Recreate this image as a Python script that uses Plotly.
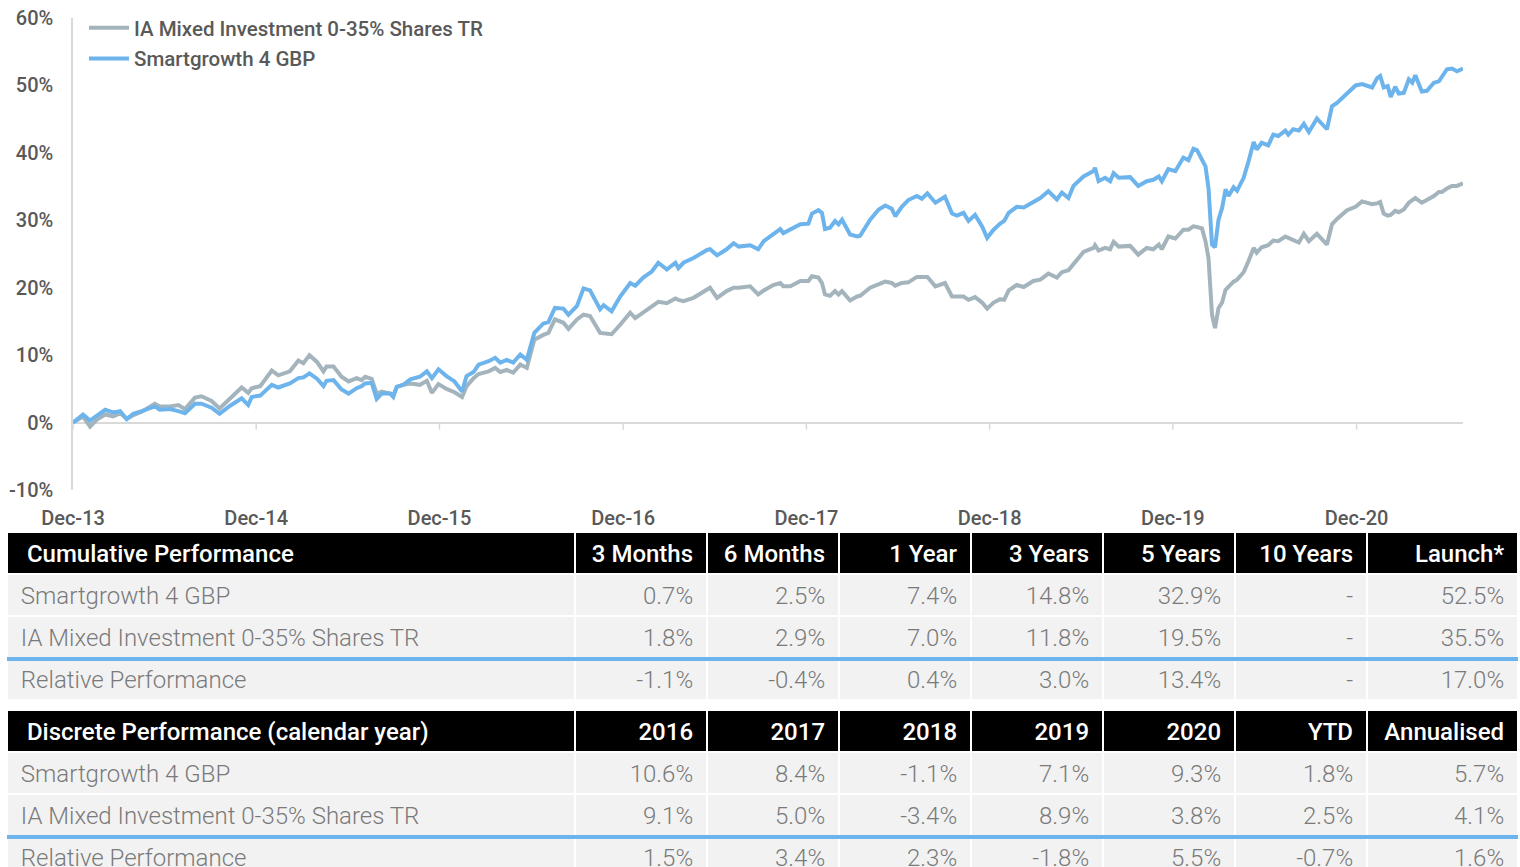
import plotly.graph_objects as go

# ---------------- chart data ----------------
dates = [
    "2013-12-31", "2014-01-20", "2014-02-03", "2014-02-16", "2014-03-05", "2014-03-21", "2014-04-04", "2014-04-17",
    "2014-04-30", "2014-05-17", "2014-06-12", "2014-06-22", "2014-07-12", "2014-07-29", "2014-08-11", "2014-08-31",
    "2014-09-13", "2014-10-03", "2014-10-19", "2014-11-09", "2014-12-02", "2014-12-15", "2014-12-22", "2015-01-08",
    "2015-01-31", "2015-02-13", "2015-03-08", "2015-03-25", "2015-04-04", "2015-04-16", "2015-05-01", "2015-05-14",
    "2015-05-20", "2015-06-03", "2015-06-19", "2015-07-03", "2015-07-19", "2015-07-29", "2015-08-05", "2015-08-18",
    "2015-08-28", "2015-09-07", "2015-09-24", "2015-09-30", "2015-10-07", "2015-10-20", "2015-11-03", "2015-11-22",
    "2015-12-06", "2015-12-16", "2015-12-29", "2016-01-14", "2016-01-30", "2016-02-14", "2016-02-23", "2016-03-08",
    "2016-03-18", "2016-04-07", "2016-04-20", "2016-04-30", "2016-05-13", "2016-05-26", "2016-06-09", "2016-06-22",
    "2016-07-07", "2016-07-25", "2016-08-04", "2016-08-17", "2016-09-03", "2016-09-13", "2016-09-30", "2016-10-13",
    "2016-10-26", "2016-11-15", "2016-11-22", "2016-12-08", "2016-12-25", "2017-01-14", "2017-01-24", "2017-02-09",
    "2017-02-26", "2017-03-11", "2017-03-28", "2017-04-14", "2017-04-20", "2017-04-30", "2017-05-20", "2017-06-16",
    "2017-06-22", "2017-07-06", "2017-07-25", "2017-08-08", "2017-08-18", "2017-09-10", "2017-09-26", "2017-10-07",
    "2017-10-26", "2017-11-09", "2017-11-15", "2017-11-29", "2017-12-19", "2018-01-04", "2018-01-11", "2018-01-24",
    "2018-01-31", "2018-02-06", "2018-02-16", "2018-02-26", "2018-03-05", "2018-03-12", "2018-03-28", "2018-04-11",
    "2018-04-17", "2018-05-07", "2018-05-24", "2018-06-06", "2018-06-19", "2018-06-26", "2018-07-09", "2018-07-22",
    "2018-08-08", "2018-08-18", "2018-08-29", "2018-09-14", "2018-10-03", "2018-10-17", "2018-10-27", "2018-11-09",
    "2018-11-19", "2018-12-02", "2018-12-16", "2018-12-26", "2019-01-08", "2019-01-21", "2019-01-29", "2019-02-07",
    "2019-02-23", "2019-03-09", "2019-03-28", "2019-04-11", "2019-04-27", "2019-05-14", "2019-05-24", "2019-06-06",
    "2019-06-16", "2019-07-06", "2019-07-26", "2019-07-29", "2019-08-05", "2019-08-18", "2019-08-28", "2019-09-04",
    "2019-09-14", "2019-10-07", "2019-10-23", "2019-11-09", "2019-11-22", "2019-12-03", "2019-12-09", "2019-12-22",
    "2020-01-05", "2020-01-21", "2020-01-31", "2020-02-10", "2020-02-17", "2020-02-27", "2020-03-05", "2020-03-11",
    "2020-03-18", "2020-03-24", "2020-03-31", "2020-04-07", "2020-04-14", "2020-04-20", "2020-04-30", "2020-05-07",
    "2020-05-20", "2020-05-30", "2020-06-09", "2020-06-15", "2020-06-25", "2020-07-08", "2020-07-18", "2020-07-28",
    "2020-08-11", "2020-08-17", "2020-08-27", "2020-09-07", "2020-09-17", "2020-09-27", "2020-10-13", "2020-11-02",
    "2020-11-12", "2020-11-22", "2020-12-12", "2020-12-29", "2021-01-11", "2021-01-31", "2021-02-10", "2021-02-16",
    "2021-02-23", "2021-03-03", "2021-03-09", "2021-03-18", "2021-03-25", "2021-04-04", "2021-04-14", "2021-04-21",
    "2021-04-27", "2021-05-10", "2021-05-20", "2021-06-03", "2021-06-13", "2021-06-19", "2021-06-29", "2021-07-09",
    "2021-07-19", "2021-07-31",
]

smartgrowth = [
    0.0, 1.2, 0.3, 1.0, 1.9, 1.5, 1.7, 0.5, 1.3, 1.7, 2.4, 1.9, 2.0, 1.7, 1.4, 2.8,
    2.8, 2.2, 1.3, 2.5, 3.6, 2.6, 3.8, 4.0, 5.6, 5.2, 5.8, 6.6, 6.7, 7.3, 6.5, 5.4,
    6.2, 6.3, 4.9, 4.3, 5.1, 5.4, 5.8, 5.9, 3.5, 4.3, 4.3, 3.8, 5.3, 5.6, 6.4, 6.8,
    7.6, 6.6, 7.9, 6.9, 6.1, 4.6, 6.9, 7.5, 8.6, 9.1, 9.6, 8.9, 9.3, 8.9, 10.1, 9.3,
    13.3, 14.7, 14.9, 17.0, 16.9, 16.0, 17.3, 19.9, 19.6, 16.8, 17.4, 16.5, 18.7, 20.7, 20.3, 21.5,
    22.4, 23.7, 22.7, 23.7, 22.9, 23.7, 24.4, 25.6, 25.7, 24.8, 25.7, 26.6, 26.1, 26.3, 25.7, 26.9,
    28.0, 28.7, 28.1, 28.6, 29.4, 29.5, 31.0, 31.5, 31.1, 28.7, 28.9, 29.9, 29.4, 30.1, 27.9, 27.6,
    27.7, 30.1, 31.6, 32.2, 31.7, 30.6, 32.0, 33.0, 33.6, 33.2, 34.0, 32.6, 33.5, 31.0, 30.7, 31.1,
    29.9, 30.8, 29.1, 27.4, 28.6, 29.5, 29.9, 31.1, 32.0, 31.9, 32.8, 33.3, 34.3, 33.1, 34.1, 33.3,
    35.1, 36.5, 37.3, 37.8, 35.8, 36.3, 35.8, 37.0, 36.3, 36.4, 35.1, 35.8, 36.0, 36.5, 35.8, 37.6,
    37.3, 39.3, 38.9, 40.6, 40.4, 38.8, 38.0, 34.8, 26.4, 26.0, 30.1, 31.8, 34.6, 33.6, 34.9, 34.4,
    36.3, 38.8, 41.6, 40.5, 41.5, 41.1, 42.7, 42.5, 43.3, 42.7, 43.5, 43.3, 44.3, 43.1, 45.1, 43.5,
    46.9, 47.4, 48.7, 50.0, 50.2, 49.7, 51.1, 51.4, 49.7, 49.9, 48.3, 49.8, 48.8, 48.9, 50.9, 50.4,
    51.5, 49.1, 49.2, 50.4, 50.6, 51.2, 52.4, 52.5, 52.1, 52.5,
]

ia_mixed = [
    0.0, 0.9, -0.6, 0.4, 1.2, 0.9, 1.4, 0.6, 1.1, 1.6, 2.8, 2.4, 2.4, 2.6, 2.0, 3.7,
    3.9, 3.2, 2.1, 3.6, 5.2, 4.4, 5.1, 5.4, 7.7, 7.0, 7.6, 9.2, 8.8, 10.0, 9.0, 7.6,
    8.3, 8.3, 6.8, 6.1, 6.6, 6.3, 6.8, 6.5, 4.3, 4.6, 4.3, 4.0, 5.3, 5.6, 5.8, 5.6,
    6.2, 4.4, 5.7, 5.0, 4.5, 3.8, 5.4, 6.6, 7.2, 7.6, 8.1, 7.5, 7.8, 7.4, 8.6, 8.1,
    12.3, 13.0, 13.3, 15.3, 14.8, 13.9, 15.3, 16.0, 15.8, 13.3, 13.2, 13.1, 14.5, 16.3, 15.5, 16.3,
    17.2, 17.9, 17.7, 18.4, 18.2, 18.0, 18.5, 19.6, 20.0, 18.5, 19.5, 20.0, 20.0, 20.2, 19.0, 19.6,
    20.4, 20.7, 20.2, 20.2, 21.0, 21.0, 21.7, 21.5, 20.7, 19.0, 18.8, 19.5, 19.0, 19.5, 18.1, 18.7,
    18.8, 20.0, 20.6, 20.9, 20.7, 20.3, 20.7, 20.8, 21.6, 21.6, 21.6, 20.2, 20.7, 18.7, 18.7, 18.7,
    18.2, 18.6, 17.8, 16.9, 17.8, 18.3, 18.2, 19.6, 20.4, 20.1, 21.0, 21.2, 22.1, 21.5, 22.3, 22.6,
    23.5, 25.3, 25.9, 26.3, 25.5, 25.9, 25.7, 26.8, 26.1, 26.2, 24.9, 25.9, 25.7, 26.4, 25.7, 27.6,
    27.3, 28.6, 28.6, 29.1, 29.0, 28.8, 26.9, 24.4, 16.0, 14.0, 17.0, 17.8, 19.7, 20.2, 20.9, 21.2,
    22.3, 24.0, 25.9, 25.2, 26.0, 26.3, 27.0, 26.9, 27.6, 27.4, 27.0, 26.7, 28.0, 26.9, 28.0, 26.4,
    29.4, 30.2, 31.5, 32.0, 32.8, 32.4, 32.5, 32.7, 31.0, 30.7, 30.8, 31.4, 31.2, 31.6, 32.6, 33.0,
    33.3, 32.6, 33.0, 33.6, 34.2, 34.2, 34.7, 35.1, 35.1, 35.5,
]

series_names = ["IA Mixed Investment 0-35% Shares TR", "Smartgrowth 4 GBP"]

tick_dates = ["2013-12-31", "2014-12-31", "2015-12-31", "2016-12-31",
              "2017-12-31", "2018-12-31", "2019-12-31", "2020-12-31"]
tick_text = ["Dec-13", "Dec-14", "Dec-15", "Dec-16", "Dec-17", "Dec-18", "Dec-19", "Dec-20"]
x_range = ["2013-12-31", "2021-07-31"]

y_tick_vals = [-10, 0, 10, 20, 30, 40, 50, 60]
y_tick_text = ["-10%", "0%", "10%", "20%", "30%", "40%", "50%", "60%"]
y_range = [-10, 60]

# ---------------- table data ----------------
row_labels = ["Smartgrowth 4 GBP", "IA Mixed Investment 0-35% Shares TR", "Relative Performance"]

cum_title = "Cumulative Performance"
cum_periods = ["3 Months", "6 Months", "1 Year", "3 Years", "5 Years", "10 Years", "Launch*"]
cum_smart = ["0.7%", "2.5%", "7.4%", "14.8%", "32.9%", "-", "52.5%"]
cum_ia = ["1.8%", "2.9%", "7.0%", "11.8%", "19.5%", "-", "35.5%"]
cum_rel = ["-1.1%", "-0.4%", "0.4%", "3.0%", "13.4%", "-", "17.0%"]

disc_title = "Discrete Performance (calendar year)"
disc_periods = ["2016", "2017", "2018", "2019", "2020", "YTD", "Annualised"]
disc_smart = ["10.6%", "8.4%", "-1.1%", "7.1%", "9.3%", "1.8%", "5.7%"]
disc_ia = ["9.1%", "5.0%", "-3.4%", "8.9%", "3.8%", "2.5%", "4.1%"]
disc_rel = ["1.5%", "3.4%", "2.3%", "-1.8%", "5.5%", "-0.7%", "1.6%"]

# ---------------- styling ----------------
W, H = 1520, 867
BLUE = "#6db4ec"
GREY = "#a4b4bd"
AXIS_GREY = "#d9d9d9"
TXT = "#595959"
FONT = "Roboto"
NB = "\u00a0"
TEXT_SHIFT = 4  # px: table text sits a little lower in its cell than plotly's default


def fx(p):
    return p / W


def fy(p):
    return 1 - p / H


fig = go.Figure()

fig.add_trace(go.Scatter(
    x=dates, y=ia_mixed, mode="lines", name=series_names[0],
    line=dict(color=GREY, width=4), legendgroup="a",
))
fig.add_trace(go.Scatter(
    x=dates, y=smartgrowth, mode="lines", name=series_names[1],
    line=dict(color=BLUE, width=4), legendgroup="b",
))

col_widths = [568, 132, 132, 132, 132, 132, 132, 151]
n_cols = len(col_widths)
aligns = ["left"] + ["right"] * (n_cols - 1)


def table_grid(y0px, y1px):
    """Cell backgrounds and borders."""
    return go.Table(
        domain=dict(x=[fx(7), fx(1518)], y=[fy(y1px), fy(y0px)]),
        columnwidth=col_widths,
        header=dict(values=[""] * n_cols, fill_color="#000000",
                    line=dict(color="#ffffff", width=2), height=42),
        cells=dict(values=[[""] * 3 for _ in range(n_cols)], fill_color="#f2f2f2",
                   line=dict(color="#ffffff", width=2), height=42),
    )


def table_text(title, periods, smart, ia, rel, y0px, y1px):
    header_vals = [NB + NB + title] + [p + NB for p in periods]
    cols = [[NB + r for r in row_labels]]
    for i in range(len(periods)):
        cols.append([smart[i] + NB, ia[i] + NB, rel[i] + NB])
    clear = "rgba(0,0,0,0)"
    return go.Table(
        domain=dict(x=[fx(7), fx(1518)], y=[fy(y1px + TEXT_SHIFT), fy(y0px + TEXT_SHIFT)]),
        columnwidth=col_widths,
        header=dict(
            values=header_vals, fill_color=clear,
            line=dict(color=clear, width=0), align=aligns,
            font=dict(family=FONT, size=24, color="#ffffff", weight=500),
            height=42,
        ),
        cells=dict(
            values=cols, fill_color=clear,
            line=dict(color=clear, width=0), align=aligns,
            font=dict(family=FONT, size=24, color="#7a7a7a", weight=300),
            height=42,
        ),
    )


fig.add_trace(table_grid(532, 700))
fig.add_trace(table_grid(710, 867))
fig.add_trace(table_text(cum_title, cum_periods, cum_smart, cum_ia, cum_rel, 532, 700))
fig.add_trace(table_text(disc_title, disc_periods, disc_smart, disc_ia, disc_rel, 710, 867 - TEXT_SHIFT))

shapes = []
for d in tick_dates:
    shapes.append(dict(type="line", xref="x", yref="y", x0=d, x1=d, y0=0, y1=-1.05,
                       line=dict(color=AXIS_GREY, width=1.5), layer="below"))
# blue separators between the comparison rows and the relative row
for ypx in (659, 837):
    shapes.append(dict(type="rect", xref="paper", yref="paper",
                       x0=fx(7), x1=fx(1518), y0=fy(ypx + 2), y1=fy(ypx - 2),
                       fillcolor=BLUE, line=dict(width=0), layer="above"))

fig.update_layout(
    width=W, height=H,
    margin=dict(l=0, r=0, t=0, b=0, autoexpand=False),
    paper_bgcolor="#ffffff", plot_bgcolor="#ffffff",
    font=dict(family=FONT, color=TXT),
    showlegend=True,
    legend=dict(
        x=fx(84), y=fy(8), xanchor="left", yanchor="top",
        bgcolor="rgba(0,0,0,0)", tracegroupgap=1,
        font=dict(family=FONT, size=20.5, color=TXT, weight=500),
        itemwidth=40,
    ),
    xaxis=dict(
        domain=[fx(73), fx(1463)], range=x_range, type="date",
        tickvals=tick_dates, ticktext=tick_text, automargin=False,
        showgrid=False, zeroline=False, showline=False, ticks="",
        tickfont=dict(family=FONT, size=20, color=TXT, weight=500),
        ticklabelstandoff=14,
    ),
    yaxis=dict(
        domain=[fy(490), fy(18)], range=y_range,
        tickvals=y_tick_vals, ticktext=y_tick_text, automargin=False,
        showgrid=False, zeroline=True, zerolinecolor=AXIS_GREY, zerolinewidth=2,
        showline=True, linecolor=AXIS_GREY, linewidth=1.5, ticks="",
        tickfont=dict(family=FONT, size=20, color=TXT, weight=500),
        ticklabelstandoff=14,
    ),
    shapes=shapes,
)

fig.write_html(
    "out.html",
    config={"displayModeBar": False},
    post_script="document.body.style.margin='0';document.body.style.overflow='hidden';",
)
